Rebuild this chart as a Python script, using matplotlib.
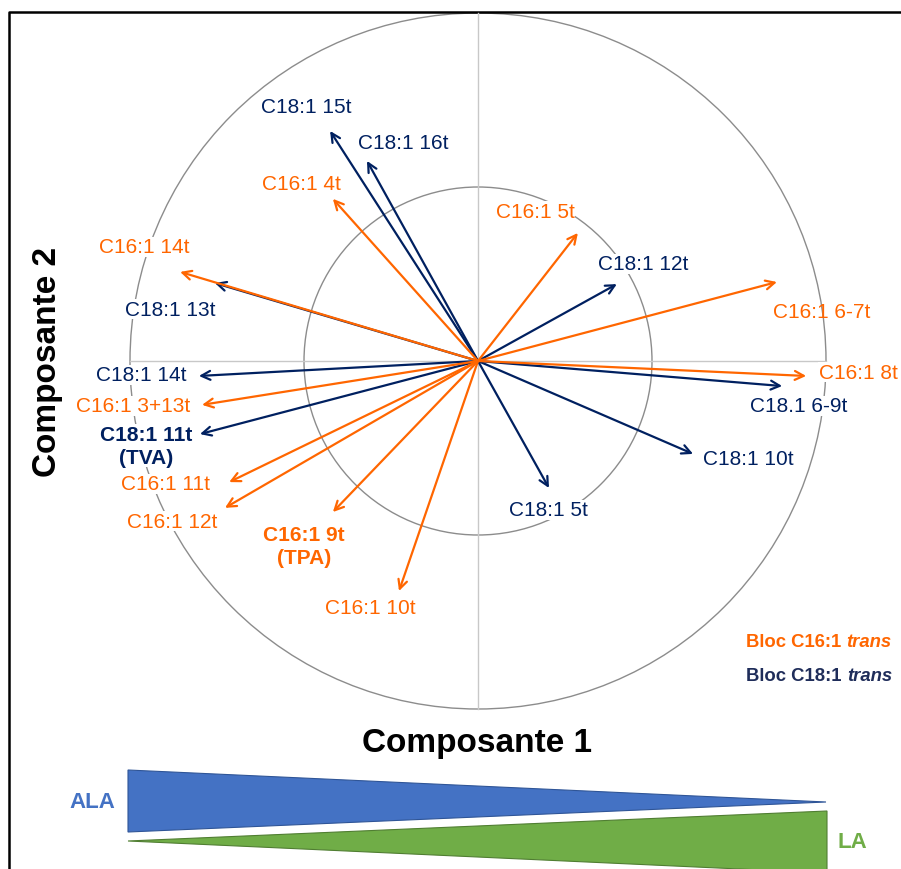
import numpy as np
import matplotlib.pyplot as plt
from matplotlib.patches import Circle, Polygon

plt.rcParams['font.family'] = ['Liberation Sans', 'DejaVu Sans']

# loadings (composante 1, composante 2)
c16_names = ['C16:1 4t', 'C16:1 14t', 'C16:1 5t', 'C16:1 6-7t', 'C16:1 8t',
             'C16:1 3+13t', 'C16:1 11t', 'C16:1 12t', 'C16:1 9t\n(TPA)', 'C16:1 10t']
c16_x = [-0.417, -0.856, 0.287, 0.859, 0.943, -0.793, -0.715, -0.727, -0.417, -0.227]
c16_y = [0.466, 0.256, 0.368, 0.227, -0.043, -0.126, -0.348, -0.422, -0.434, -0.661]

c18_names = ['C18:1 15t', 'C18:1 16t', 'C18:1 13t', 'C18:1 12t', 'C18:1 14t',
             'C18:1 11t\n(TVA)', 'C18.1 6-9t', 'C18:1 10t', 'C18:1 5t']
c18_x = [-0.425, -0.319, -0.756, 0.399, -0.802, -0.799, 0.874, 0.618, 0.204]
c18_y = [0.661, 0.575, 0.224, 0.221, -0.043, -0.210, -0.072, -0.267, -0.365]

# label placement
c16_lab = [(-0.506, 0.509), (-0.960, 0.328), (0.164, 0.431), (0.989, 0.141), (1.092, -0.032),
           (-0.991, -0.129), (-0.897, -0.353), (-0.879, -0.460), (-0.500, -0.532), (-0.310, -0.707)]
c18_lab = [(-0.494, 0.730), (-0.216, 0.629), (-0.885, 0.149), (0.474, 0.279), (-0.968, -0.040),
           (-0.954, -0.244), (0.922, -0.129), (0.776, -0.279), (0.201, -0.428)]

orange = '#FF6600'
navy = '#002060'

fig = plt.figure(figsize=(9.01, 8.70), dpi=100)
ax = fig.add_axes([0, 0, 1, 1])
ax.set_xlim(-478 / 348, 423 / 348)
ax.set_ylim(-508 / 348, 362 / 348)
ax.set_aspect('equal')
ax.axis('off')

# frame
ax.plot([0.0105, 0.0105, 1.0], [0.0, 0.985, 0.985], color='black', lw=1.8,
        transform=ax.transAxes, clip_on=False)

# circles and axes
ax.add_patch(Circle((0, 0), 1.0, fill=False, ec='#8C8C8C', lw=1))
ax.add_patch(Circle((0, 0), 0.5, fill=False, ec='#8C8C8C', lw=1))
ax.plot([-1, 1], [0, 0], color='#C8C8C8', lw=1)
ax.plot([0, 0], [-1, 1], color='#C8C8C8', lw=1)


def draw_block(names, xs, ys, labs, color):
    for name, x, y, (lx, ly) in zip(names, xs, ys, labs):
        ax.annotate('', xy=(x, y), xytext=(0, 0),
                    arrowprops=dict(arrowstyle='->', color=color, lw=1.6,
                                    shrinkA=0, shrinkB=0, mutation_scale=16))
        bold = '\n' in name
        box = None if name == 'C16:1 6-7t' else dict(fc='white', ec='none', pad=0.5)
        ax.text(lx, ly, name, color=color, fontsize=15, ha='center', va='center',
                fontweight='bold' if bold else 'normal', linespacing=1.25,
                bbox=box, zorder=5)


draw_block(c18_names, c18_x, c18_y, c18_lab, navy)
draw_block(c16_names, c16_x, c16_y, c16_lab, orange)

# block legend
for ly, col, txt in [(-0.805, orange, 'Bloc C16:1 '), (-0.905, '#1F2D5A', 'Bloc C18:1 ')]:
    t = ax.text(0.771, ly, txt, color=col, fontsize=13.3, fontweight='bold',
                ha='left', va='center')
    ax.annotate('trans', xy=(1, 0), xycoords=t, color=col, fontsize=13.3,
                fontweight='bold', style='italic', ha='left', va='bottom')

# axis titles
ax.text(-1.238, 0.0, 'Composante 2', rotation=90, fontsize=24, fontweight='bold',
        ha='center', va='center')
ax.text(-0.003, -1.095, 'Composante 1', fontsize=24, fontweight='bold',
        ha='center', va='center')

# ALA / LA gradient triangles
ax.add_patch(Polygon([(-350 / 348, -409 / 348), (-350 / 348, -471 / 348), (348 / 348, -441 / 348)],
                     closed=True, fc='#4472C4', ec='#2F5597', lw=0.8))
ax.add_patch(Polygon([(-350 / 348, -480 / 348), (349 / 348, -450 / 348), (349 / 348, -512 / 348)],
                     closed=True, fc='#70AD47', ec='#507E32', lw=0.8, clip_on=False))
ax.text(-386 / 348, -441 / 348, 'ALA', color='#4472C4', fontsize=16, fontweight='bold',
        ha='center', va='center')
ax.text(374 / 348, -481 / 348, 'LA', color='#70AD47', fontsize=16, fontweight='bold',
        ha='center', va='center')

fig.savefig('out.png', dpi=100)
